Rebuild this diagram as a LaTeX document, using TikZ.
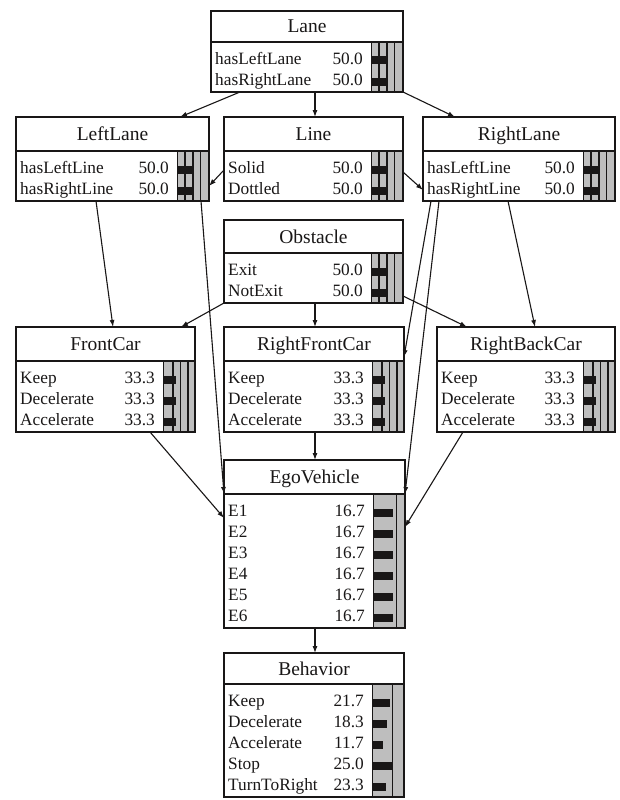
\documentclass[tikz,border=0pt]{standalone}
\usepackage{fontspec}
\setmainfont{Liberation Serif}
\usetikzlibrary{calc,arrows.meta}

\definecolor{ink}{RGB}{25,23,23}
\definecolor{bargray}{RGB}{190,190,190}

\tikzset{
  netbox/.style={draw=ink, line width=1.8pt, inner sep=0pt, outer sep=0pt, anchor=north west},
  sepline/.style={draw=ink, line width=1.8pt},
  gridline/.style={draw=ink, line width=1.2pt},
  edgeline/.style={draw=ink, line width=0.9pt},
  titletext/.style={font=\fontsize{19.5}{22}\selectfont, text=ink, inner sep=0pt, anchor=base},
  statelabel/.style={font=\fontsize{17.3}{20}\selectfont, text=ink, inner sep=0pt, anchor=base west},
  stateval/.style={font=\fontsize{17.3}{20}\selectfont, text=ink, inner sep=0pt, anchor=base east},
  link/.style={draw=ink, line width=1.1pt, -{Latex[length=7pt,width=5pt]}},
}

% #1 name, #2 left, #3 top, #4 width, #5 title height, #6 number of states,
% #7 title, #8 grid offsets in the bar area, #9 states as label/value/bar length
\newcommand\beliefnode[9]{%
  \pgfmathsetmacro\bodyH{#6*21+8}%
  \pgfmathsetmacro\boxH{#5+\bodyH}%
  \fill[bargray] (#2+#4-32,#3+#5) rectangle (#2+#4,#3+\boxH);
  \draw[edgeline] (#2+#4-32,#3+#5) -- ++(0,\bodyH);
  \foreach \g in {#8} {\draw[gridline] (#2+#4-32+\g,#3+#5) -- ++(0,\bodyH);}
  \foreach [count=\i from 0] \slab/\sval/\blen in {#9} {
    \pgfmathsetmacro\rowbase{#3+#5+22.5+21*\i}
    \node[statelabel] (#1-l\i) at (#2+4,\rowbase) {\slab};
    \node[stateval] (#1-v\i) at (#2+#4-40,\rowbase) {\sval};
    \fill[ink] (#2+#4-32,\rowbase-8) rectangle ++(\blen,8);
  }
  \node[netbox, minimum width=#4, minimum height=\boxH] (#1) at (#2,#3) {};
  \draw[sepline] (#2,#3+#5) -- ++(#4,0);
  \node[titletext] (#1-title) at (#2+#4/2,#3+#5/2+6.5) {#7};
}

\begin{document}
\begin{tikzpicture}[x=1pt,y=-1pt]
\useasboundingbox (0,0) rectangle (619,800);
\fill[white] (0,0) rectangle (619,800);

\beliefnode{lane}{211}{11}{192}{31}{2}{Lane}{8,16,23.5}{hasLeftLane/50.0/15.5, hasRightLane/50.0/15.5}
\beliefnode{leftlane}{16}{117}{193}{34}{2}{LeftLane}{8,16,23.5}{hasLeftLine/50.0/15.5, hasRightLine/50.0/15.5}
\beliefnode{linenode}{224}{117}{179}{34}{2}{Line}{8,16,23.5}{Solid/50.0/15.5, Dottled/50.0/15.5}
\beliefnode{rightlane}{423}{117}{192}{34}{2}{RightLane}{8,16,23.5}{hasLeftLine/50.0/15.5, hasRightLine/50.0/15.5}
\beliefnode{obstacle}{224}{220}{179}{33}{2}{Obstacle}{8,16,23.5}{Exit/50.0/15.5, NotExit/50.0/15.5}
\beliefnode{frontcar}{16}{327}{179}{34}{3}{FrontCar}{10,17.5,25}{Keep/33.3/13, Decelerate/33.3/13, Accelerate/33.3/13}
\beliefnode{rightfrontcar}{224}{327}{180}{34}{3}{RightFrontCar}{10,17.5,25}{Keep/33.3/13, Decelerate/33.3/13, Accelerate/33.3/13}
\beliefnode{rightbackcar}{437}{327}{178}{34}{3}{RightBackCar}{10,17.5,25}{Keep/33.3/13, Decelerate/33.3/13, Accelerate/33.3/13}
\beliefnode{ego}{224}{460}{181}{34}{6}{EgoVehicle}{23.5}{E1/16.7/20.4, E2/16.7/20.4, E3/16.7/20.4, E4/16.7/20.4, E5/16.7/20.4, E6/16.7/20.4}
\beliefnode{behavior}{224}{653}{180}{31}{5}{Behavior}{20.5}{Keep/21.7/17.5, Decelerate/18.3/14.5, Accelerate/11.7/11, Stop/25.0/19.5, TurnToRight/23.3/14}

% dependencies
\draw[link] ($(lane.south west)+(29,0)$) -- ($(leftlane.north west)+(164,0)$);
\draw[link] ($(lane.south west)+(104,0)$) -- ($(linenode.north west)+(91,0)$);
\draw[link] (lane.south east) -- ($(rightlane.north west)+(32,0)$);
\draw[link] ($(linenode.north west)+(0,53)$) -- ($(leftlane.north east)+(0,69)$);
\draw[link] ($(linenode.north east)+(0,55)$) -- ($(rightlane.north west)+(0,73)$);
\draw[link] ($(leftlane.south west)+(80,0)$) -- ($(frontcar.north west)+(97,0)$);
\draw[link] ($(leftlane.south west)+(185,0)$) -- ($(ego.north west)+(0,34)$);
\draw[link] ($(rightlane.south west)+(8,0)$) -- ($(rightfrontcar.north east)+(0,30)$);
\draw[link] ($(rightlane.south west)+(16,0)$) -- ($(ego.north east)+(0,34)$);
\draw[link] ($(rightlane.south west)+(85,0)$) -- ($(rightbackcar.north west)+(98,0)$);
\draw[link] (obstacle.south west) -- ($(frontcar.north west)+(165,0)$);
\draw[link] ($(obstacle.south west)+(91,0)$) -- ($(rightfrontcar.north west)+(91,0)$);
\draw[link] ($(obstacle.north east)+(0,76)$) -- ($(rightbackcar.north west)+(30,0)$);
\draw[link] ($(rightfrontcar.south west)+(91,0)$) -- ($(ego.north west)+(91,0)$);
\draw[link] ($(frontcar.south west)+(134,0)$) -- ($(ego.north west)+(0,58)$);
\draw[link] ($(rightbackcar.south west)+(26,0)$) -- ($(ego.north east)+(0,67)$);
\draw[link] ($(ego.south west)+(91,0)$) -- ($(behavior.north west)+(91,0)$);
\end{tikzpicture}
\end{document}
